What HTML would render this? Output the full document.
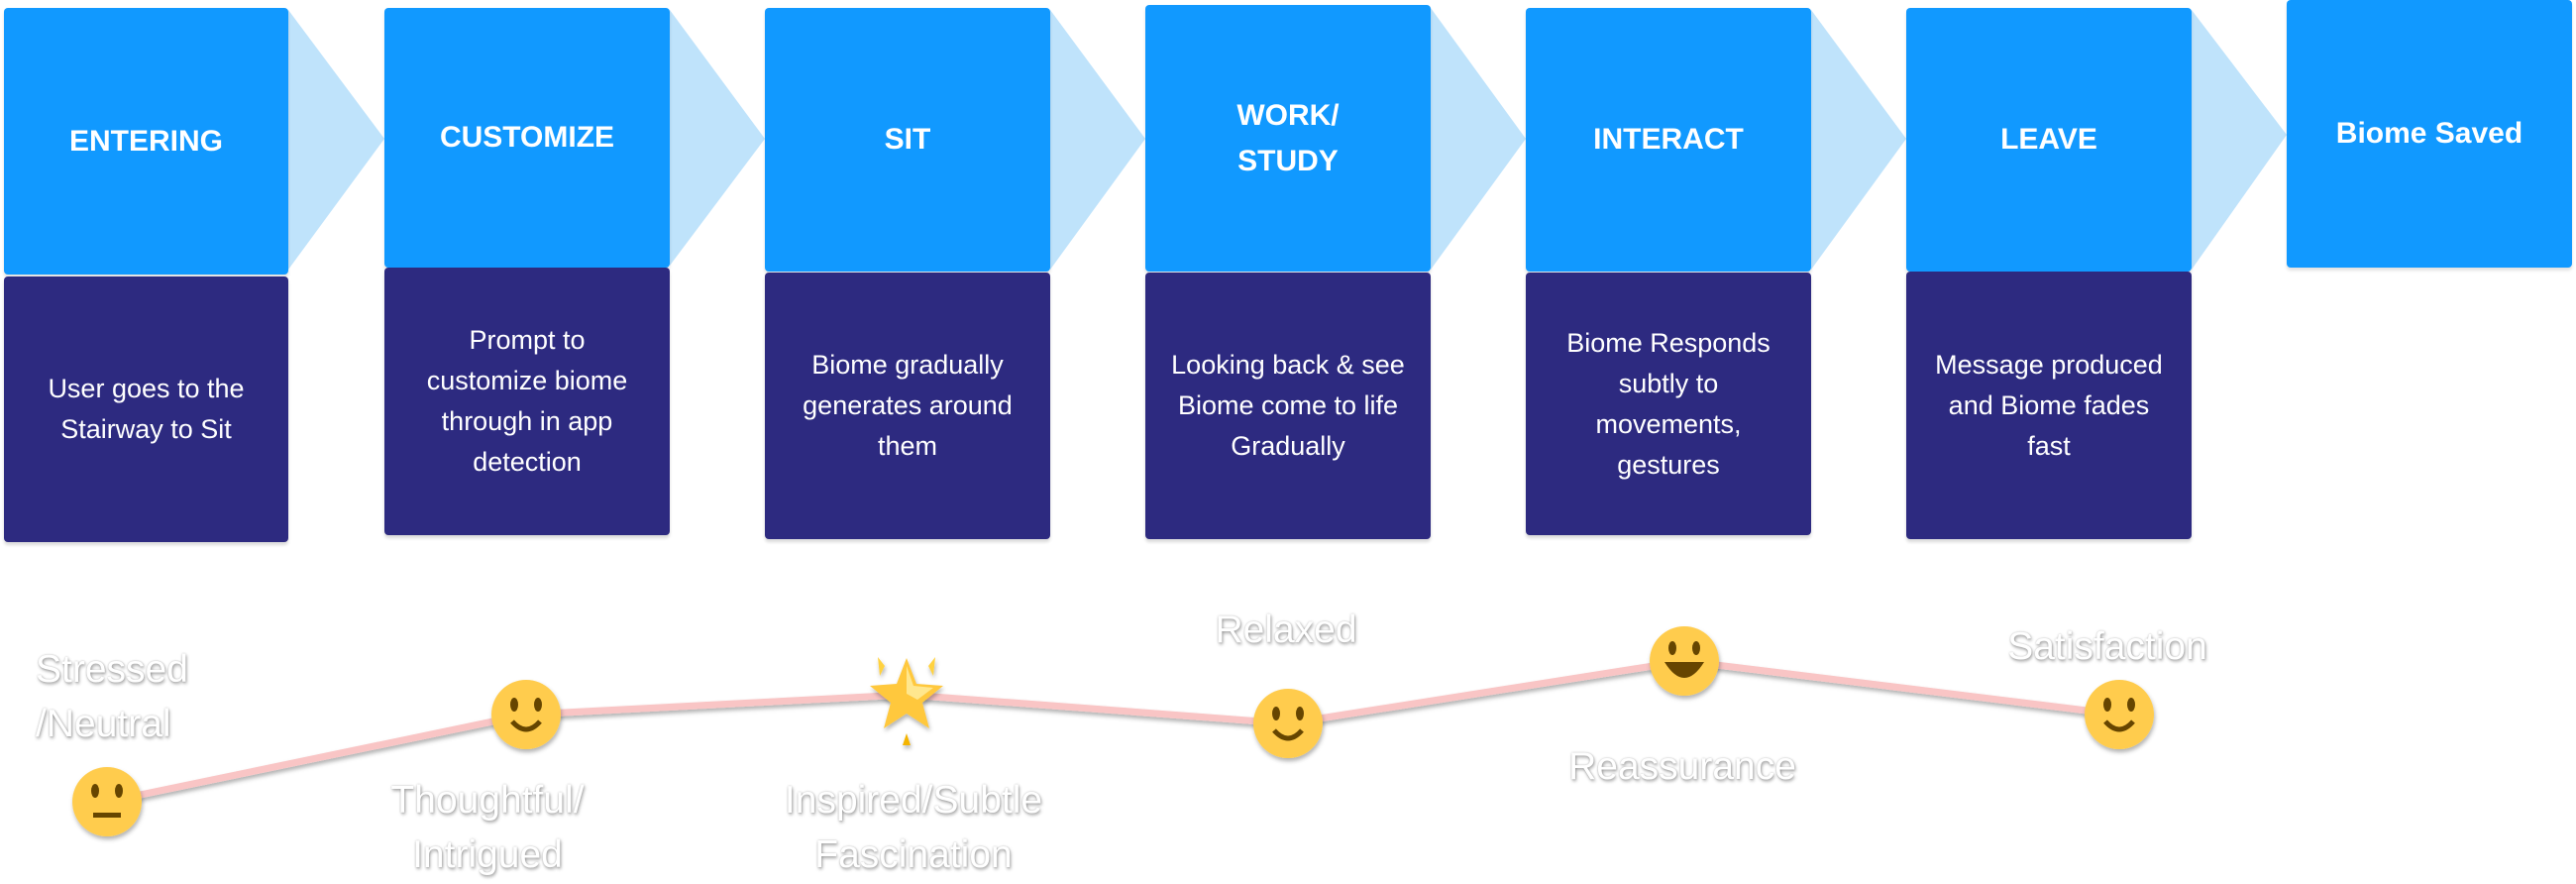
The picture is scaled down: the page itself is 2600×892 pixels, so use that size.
<!DOCTYPE html>
<html><head><meta charset="utf-8"><style>
body{margin:0;width:2600px;height:892px;background:#fff;position:relative;overflow:hidden;font-family:"Liberation Sans",sans-serif}
.b{position:absolute;background:#1199ff;border-radius:4px;color:#fff;font-weight:bold;font-size:30px;display:flex;align-items:center;justify-content:center;text-align:center;line-height:46px;box-shadow:0 3px 3px rgba(0,0,0,.12)}
.d{position:absolute;background:#2d2a80;border-radius:4px;color:#fff;font-size:27px;display:flex;align-items:center;justify-content:center;text-align:center;line-height:41px;box-shadow:0 3px 3px rgba(0,0,0,.15)}
.l{position:absolute;color:#fff;font-size:39px;text-align:center;line-height:55px;text-shadow:1px 2px 3px rgba(0,0,0,.35),0 0 2px rgba(0,0,0,.25);transform:translateX(-50%);white-space:nowrap}
</style></head><body>
<svg width="2600" height="892" style="position:absolute;left:0;top:0">
<g fill="#bfe3fb">
<polygon points="291,10 388,140 291,272 "/>
<polygon points="676,10 772,140 676,268"/>
<polygon points="1060,10 1156,140 1060,272"/>
<polygon points="1444,8 1540,140 1444,272"/>
<polygon points="1828,10 1924,140 1828,272"/>
<polygon points="2212,10 2308,136 2212,272"/>
</g>
</svg>
<div class="b" style="left:4px;top:8px;width:287px;height:269px">ENTERING</div>
<div class="d" style="left:4px;top:279px;width:287px;height:268px">User goes to the<br>Stairway to Sit</div>
<div class="b" style="left:388px;top:8px;width:288px;height:262px">CUSTOMIZE</div>
<div class="d" style="left:388px;top:270px;width:288px;height:270px">Prompt to<br>customize biome<br>through in app<br>detection</div>
<div class="b" style="left:772px;top:8px;width:288px;height:266px">SIT</div>
<div class="d" style="left:772px;top:275px;width:288px;height:269px">Biome gradually<br>generates around<br>them</div>
<div class="b" style="left:1156px;top:5px;width:288px;height:269px">WORK/<br>STUDY</div>
<div class="d" style="left:1156px;top:275px;width:288px;height:269px">Looking back &amp; see<br>Biome come to life<br>Gradually</div>
<div class="b" style="left:1540px;top:8px;width:288px;height:266px">INTERACT</div>
<div class="d" style="left:1540px;top:275px;width:288px;height:265px">Biome Responds<br>subtly to<br>movements,<br>gestures</div>
<div class="b" style="left:1924px;top:8px;width:288px;height:266px">LEAVE</div>
<div class="d" style="left:1924px;top:274px;width:288px;height:270px">Message produced<br>and Biome fades<br>fast</div>
<div class="b" style="left:2308px;top:0px;width:288px;height:270px">Biome Saved</div>

<svg width="2600" height="892" style="position:absolute;left:0;top:0">
<defs><filter id="s"><feDropShadow dx="1" dy="3" stdDeviation="2" flood-opacity=".3"/></filter></defs>
<polyline points="108,809 531,721 915,701 1300,730 1700,667 2139,721" fill="none" stroke="#f9c5c5" stroke-width="7" filter="url(#s)"/>
<g filter="url(#s)">
<circle cx="108" cy="809" r="35" fill="#ffcc4d"/>
<ellipse cx="96" cy="798" rx="4" ry="7" fill="#664500"/><ellipse cx="120" cy="798" rx="4" ry="7" fill="#664500"/>
<rect x="94" y="820" width="28" height="5" fill="#664500"/>
<circle cx="531" cy="721" r="35" fill="#ffcc4d"/>
<ellipse cx="519" cy="711" rx="4" ry="7" fill="#664500"/><ellipse cx="543" cy="711" rx="4" ry="7" fill="#664500"/>
<path d="M517,728 Q531,744 545,728" stroke="#664500" stroke-width="5" fill="none"/>
<polygon points="915,664 925,690 952,692 931,709 938,735 915,720 892,735 899,709 878,692 905,690" fill="#ffc83d"/>
<polygon points="915,672 922,692 942,694 926,706 915,700" fill="#fff3b0" opacity=".7"/>
<polygon points="886,663 893,672 888,682" fill="#ffd23f"/><polygon points="944,663 937,672 942,682" fill="#ffd23f"/>
<polygon points="915,740 919,752 911,752" fill="#f4b400"/>
<circle cx="1300" cy="730" r="35" fill="#ffcc4d"/>
<ellipse cx="1288" cy="720" rx="4" ry="7" fill="#664500"/><ellipse cx="1312" cy="720" rx="4" ry="7" fill="#664500"/>
<path d="M1286,737 Q1300,753 1314,737" stroke="#664500" stroke-width="5" fill="none"/>
<circle cx="1700" cy="667" r="35" fill="#ffcc4d"/>
<ellipse cx="1688" cy="654" rx="4" ry="7" fill="#664500"/><ellipse cx="1712" cy="654" rx="4" ry="7" fill="#664500"/>
<path d="M1680,668 Q1700,700 1720,668 Z" fill="#664500"/>
<circle cx="2139" cy="721" r="35" fill="#ffcc4d"/>
<ellipse cx="2127" cy="711" rx="4" ry="7" fill="#664500"/><ellipse cx="2151" cy="711" rx="4" ry="7" fill="#664500"/>
<path d="M2125,728 Q2139,744 2153,728" stroke="#664500" stroke-width="5" fill="none"/>
</g>
</svg>
<div class="l" style="left:36px;top:648px;text-align:left;transform:none">Stressed<br>/Neutral</div>
<div class="l" style="left:492px;top:780px">Thoughtful/<br>Intrigued</div>
<div class="l" style="left:922px;top:780px">Inspired/Subtle<br>Fascination</div>
<div class="l" style="left:1298px;top:608px">Relaxed</div>
<div class="l" style="left:1698px;top:746px">Reassurance</div>
<div class="l" style="left:2127px;top:625px">Satisfaction</div>
</body></html>
